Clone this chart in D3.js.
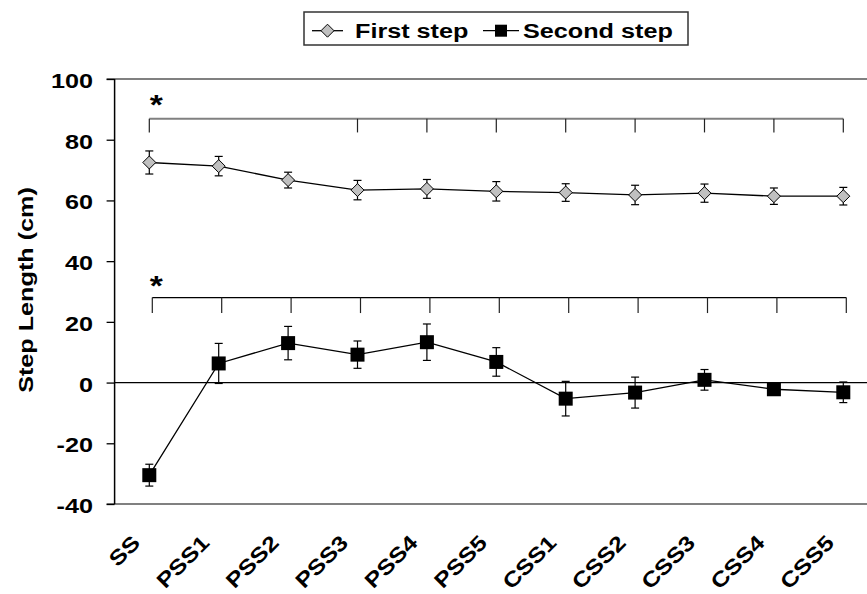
<!DOCTYPE html>
<html>
<head>
<meta charset="utf-8">
<script src="https://cdn.jsdelivr.net/npm/d3@7"></script>
<style>
  html, body { margin: 0; padding: 0; background: #fff; }
  svg { display: block; font-family: "Liberation Sans", Arial, sans-serif; font-weight: bold; }
</style>
</head>
<body>
<svg id="chart" width="867" height="594"></svg>
<script>
// Step length per condition
const categories = ["SS", "PSS1", "PSS2", "PSS3", "PSS4", "PSS5", "CSS1", "CSS2", "CSS3", "CSS4", "CSS5"];
const firstStep = [72.5, 71.3, 66.7, 63.4, 63.8, 63.0, 62.6, 61.8, 62.4, 61.4, 61.4];
const firstStepErr = [3.8, 3.2, 2.6, 3.2, 3.1, 3.2, 2.9, 3.2, 3.0, 2.7, 2.9];
const secondStep = [-30.5, 6.3, 13.0, 9.2, 13.3, 6.8, -5.3, -3.3, 0.9, -2.2, -3.2];
const secondStepErr = [3.6, 6.6, 5.5, 4.5, 6.0, 4.7, 5.7, 5.1, 3.4, 1.5, 3.4];
const yTicks = [-40, -20, 0, 20, 40, 60, 80, 100];

// Significance brackets (conditions different from SS)
const firstStepSig = ["SS", "PSS3", "PSS4", "PSS5", "CSS1", "CSS2", "CSS3", "CSS4", "CSS5"];
const secondStepSig = ["SS", "PSS1", "PSS2", "PSS3", "PSS4", "PSS5", "CSS1", "CSS2", "CSS3", "CSS4", "CSS5"];
const firstBracket = { top: 86.9, bottom: 82.4, star: 93 };
const secondBracket = { top: 28.0, bottom: 22.9, star: 33.5 };

const svg = d3.select("#chart");
const plotLeft = 114.6, plotRight = 878, plotTop = 79, plotBottom = 504;
const stretch = 1.2;

const x = d3.scaleBand().domain(categories).range([plotLeft, plotRight]);
const cx = c => x(c) + x.bandwidth() / 2;
const y = d3.scaleLinear().domain([-40, 100]).range([plotBottom, plotTop]);

// Text helper: glyphs widened along the reading direction
function label(g, text, px, py, rot, size, anchor) {
  return g.append("text")
    .attr("transform", `translate(${px},${py}) rotate(${rot}) scale(${stretch},1)`)
    .attr("text-anchor", anchor)
    .attr("font-size", size)
    .attr("fill", "#000")
    .text(text);
}

// Frame: grey top and bottom edges
svg.append("line").attr("x1", plotLeft - 8).attr("x2", 867).attr("y1", plotTop).attr("y2", plotTop)
  .attr("stroke", "#808080").attr("stroke-width", 2);
svg.append("line").attr("x1", plotLeft - 8).attr("x2", 867).attr("y1", plotBottom).attr("y2", plotBottom)
  .attr("stroke", "#808080").attr("stroke-width", 2);

// Y axis
const yAxis = d3.axisLeft(y).tickValues(yTicks).tickSize(8).tickFormat("");
const yg = svg.append("g").attr("transform", `translate(${plotLeft},0)`).call(yAxis);
yg.select(".domain").attr("stroke", "#000").attr("stroke-width", 1.5).attr("d", `M0,${plotTop}V${plotBottom}`);
yg.selectAll(".tick line").attr("stroke", "#000").attr("stroke-width", 1.3);
yTicks.forEach(v => label(svg, String(v), 93, y(v) + 9, 0, 21, "end"));

// Zero line
svg.append("line").attr("x1", plotLeft).attr("x2", 867).attr("y1", y(0)).attr("y2", y(0))
  .attr("stroke", "#000").attr("stroke-width", 1.3);

// Y title
label(svg, "Step Length (cm)", 33, 290, -90, 21, "middle");

// X category labels
categories.forEach(c => label(svg, c, cx(c) - 8, 544, -45, 21, "end"));

// Brackets
function bracket(cats, b, color, width, dx) {
  const g = svg.append("g");
  const xs = cats.map(c => cx(c) + dx);
  g.append("line").attr("x1", d3.min(xs)).attr("x2", d3.max(xs))
    .attr("y1", y(b.top)).attr("y2", y(b.top))
    .attr("stroke", color).attr("stroke-width", width);
  g.selectAll("line.t").data(xs).join("line").attr("class", "t")
    .attr("x1", d => d).attr("x2", d => d)
    .attr("y1", y(b.top)).attr("y2", y(b.bottom))
    .attr("stroke", "#222").attr("stroke-width", 1.2);
  label(g, "*", cx(cats[0]) + 7, y(b.star) + 14, 0, 28, "middle");
}
bracket(firstStepSig, firstBracket, "#808080", 2, 0);
bracket(secondStepSig, secondBracket, "#000", 1.2, 3);

// Series drawing
function series(values, errs, shape) {
  const g = svg.append("g");
  const pts = categories.map((c, i) => ({ c, v: values[i], e: errs[i] }));
  g.append("path").datum(pts)
    .attr("d", d3.line().x(d => cx(d.c)).y(d => y(d.v)))
    .attr("fill", "none").attr("stroke", "#000").attr("stroke-width", 1.3);
  const eb = g.selectAll("g.eb").data(pts).join("g").attr("class", "eb");
  eb.append("line").attr("x1", d => cx(d.c)).attr("x2", d => cx(d.c))
    .attr("y1", d => y(d.v + d.e)).attr("y2", d => y(d.v - d.e))
    .attr("stroke", "#000").attr("stroke-width", 1.2);
  [1, -1].forEach(s => eb.append("line")
    .attr("x1", d => cx(d.c) - 4).attr("x2", d => cx(d.c) + 4)
    .attr("y1", d => y(d.v + s * d.e)).attr("y2", d => y(d.v + s * d.e))
    .attr("stroke", "#000").attr("stroke-width", 1.2));
  if (shape === "diamond") {
    g.selectAll("path.m").data(pts).join("path").attr("class", "m")
      .attr("d", d => `M${cx(d.c)},${y(d.v) - 6.5}l6.5,6.5l-6.5,6.5l-6.5,-6.5z`)
      .attr("fill", "#c0c0c0").attr("stroke", "#000").attr("stroke-width", 1);
  } else {
    g.selectAll("rect.m").data(pts).join("rect").attr("class", "m")
      .attr("x", d => cx(d.c) - 7).attr("y", d => y(d.v) - 7)
      .attr("width", 14).attr("height", 14).attr("fill", "#000");
  }
}
series(firstStep, firstStepErr, "diamond");
series(secondStep, secondStepErr, "square");

// Legend
const lg = svg.append("g");
lg.append("rect").attr("x", 304).attr("y", 12).attr("width", 384).attr("height", 33)
  .attr("fill", "#fff").attr("stroke", "#333").attr("stroke-width", 1.5);
lg.append("line").attr("x1", 312).attr("x2", 343).attr("y1", 30.7).attr("y2", 30.7)
  .attr("stroke", "#000").attr("stroke-width", 1.3);
lg.append("path").attr("d", "M327.5,24.2l6.5,6.5l-6.5,6.5l-6.5,-6.5z")
  .attr("fill", "#c0c0c0").attr("stroke", "#000").attr("stroke-width", 1);
label(lg, "First step", 355, 38.3, 0, 21, "start");
lg.append("line").attr("x1", 483).attr("x2", 519).attr("y1", 30.7).attr("y2", 30.7)
  .attr("stroke", "#000").attr("stroke-width", 1.3);
lg.append("rect").attr("x", 495).attr("y", 24.7).attr("width", 12).attr("height", 12).attr("fill", "#000");
label(lg, "Second step", 523, 38.3, 0, 21, "start");
</script>
</body>
</html>
